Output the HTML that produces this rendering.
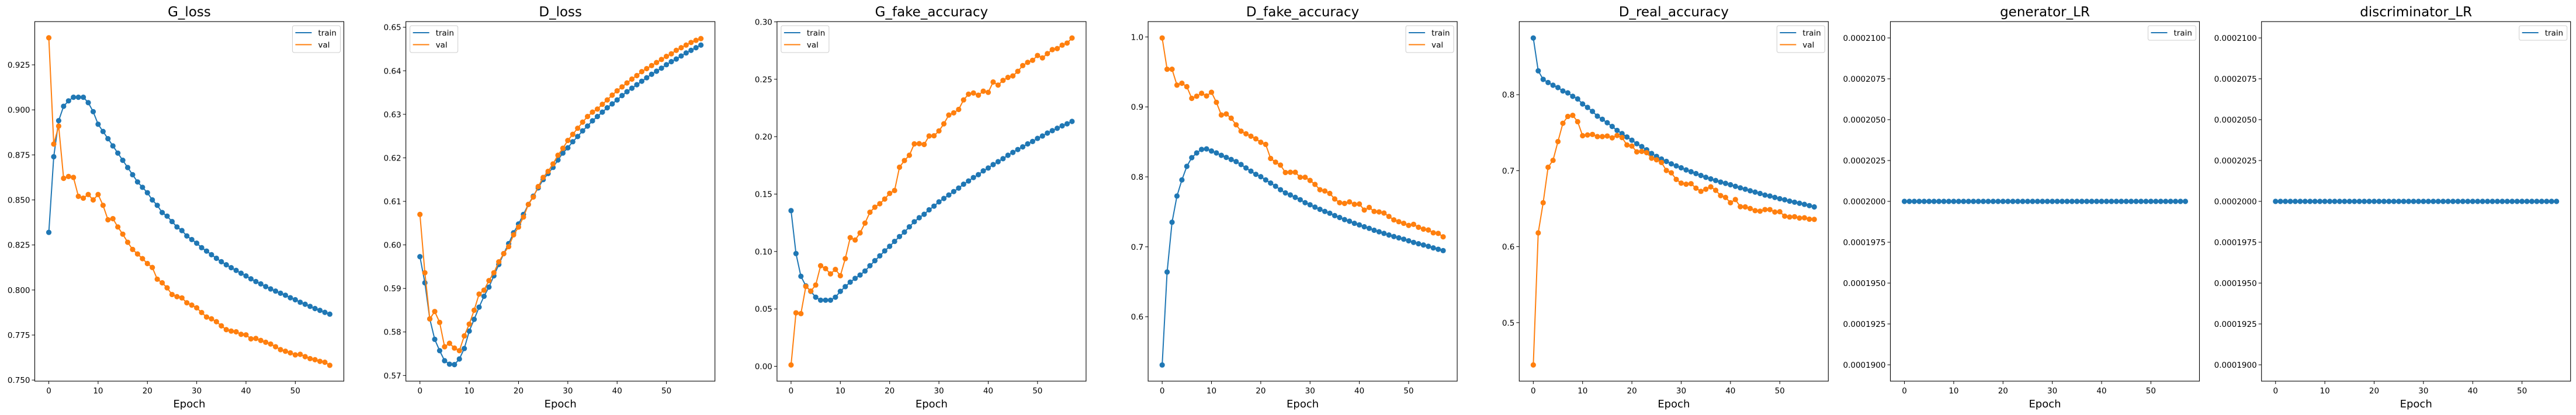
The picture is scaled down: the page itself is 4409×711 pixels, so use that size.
<!DOCTYPE html>
<html><head><meta charset="utf-8">
<style>
html,body{margin:0;padding:0;background:#fff;}
svg{display:block;font-family:"DejaVu Sans","Liberation Sans",sans-serif;}
</style></head>
<body>
<svg id="fig" width="4409" height="711" viewBox="0 0 4409 711" xmlns="http://www.w3.org/2000/svg"></svg>
<script>
const epochs = Array.from({length:58},(_,i)=>i);
const xTicks = [0,10,20,30,40,50];

const gLossTrain=[0.832,0.874,0.894,0.902,0.905,0.907,0.907,0.907,0.904,0.899,0.892,0.888,0.884,0.880,0.876,0.872,0.868,0.864,0.860,0.857,0.854,0.850,0.847,0.843,0.841,0.838,0.835,0.833,0.830,0.828,0.826,0.8235,0.8216,0.8196,0.8176,0.8157,0.814,0.8124,0.8109,0.8093,0.8078,0.8062,0.8047,0.8034,0.8019,0.8006,0.7994,0.7982,0.7971,0.7957,0.7946,0.7932,0.7921,0.7909,0.7897,0.7887,0.7876,0.7866];
const gLossVal=[0.940,0.881,0.891,0.862,0.863,0.8625,0.852,0.851,0.853,0.850,0.853,0.847,0.839,0.8396,0.835,0.831,0.8265,0.8225,0.820,0.8174,0.8147,0.8125,0.806,0.804,0.8012,0.7975,0.7963,0.7956,0.7929,0.7916,0.7901,0.7875,0.785,0.784,0.7824,0.7801,0.778,0.7772,0.7768,0.7754,0.7751,0.7729,0.7731,0.772,0.771,0.770,0.7685,0.7669,0.766,0.7651,0.764,0.7643,0.763,0.7619,0.7613,0.7604,0.7599,0.7582];
const gLossTicks=[0.750,0.775,0.800,0.825,0.850,0.875,0.900,0.925];
const gLossTickLabels=["0.750","0.775","0.800","0.825","0.850","0.875","0.900","0.925"];

const dLossTrain=[0.5973,0.5913,0.583,0.5783,0.5757,0.5734,0.5726,0.5725,0.5738,0.5762,0.5802,0.5829,0.5857,0.5882,0.5903,0.5929,0.5955,0.598,0.6003,0.6028,0.6048,0.607,0.6093,0.6112,0.6131,0.615,0.6164,0.6178,0.6195,0.6211,0.6223,0.6237,0.6249,0.6262,0.6273,0.6285,0.6295,0.6305,0.6315,0.6324,0.6333,0.6343,0.6352,0.636,0.6368,0.6376,0.6384,0.6392,0.6399,0.6406,0.6414,0.6421,0.6427,0.6434,0.6441,0.6447,0.6453,0.6459];
const dLossVal=[0.607,0.5936,0.583,0.5847,0.5822,0.5766,0.5774,0.5763,0.5757,0.5791,0.5818,0.585,0.5887,0.5896,0.5918,0.5936,0.5961,0.598,0.5996,0.6023,0.6041,0.6064,0.6093,0.611,0.6134,0.6155,0.6169,0.6186,0.6206,0.6222,0.624,0.6254,0.6268,0.6282,0.6295,0.6305,0.6312,0.6323,0.6333,0.6344,0.6354,0.6363,0.6372,0.6381,0.6389,0.6398,0.6405,0.6412,0.6419,0.6426,0.6433,0.6439,0.6447,0.6453,0.6459,0.6465,0.647,0.6474];
const dLossTicks=[0.57,0.58,0.59,0.60,0.61,0.62,0.63,0.64,0.65];
const dLossTickLabels=["0.57","0.58","0.59","0.60","0.61","0.62","0.63","0.64","0.65"];

const gFakeTrain=[0.1356,0.0982,0.0784,0.0701,0.0653,0.0602,0.0576,0.0576,0.0576,0.0602,0.0653,0.0694,0.0733,0.0766,0.0795,0.083,0.0876,0.092,0.0962,0.1005,0.1045,0.1088,0.113,0.1169,0.1215,0.1259,0.1294,0.1324,0.1363,0.1395,0.1432,0.1462,0.1492,0.1522,0.1552,0.1586,0.1614,0.1644,0.1669,0.1702,0.1727,0.1757,0.1782,0.1808,0.1838,0.1863,0.1888,0.1911,0.1937,0.1958,0.1985,0.2006,0.2031,0.2052,0.2073,0.2094,0.2112,0.2133];
const gFakeVal=[0.0012,0.0466,0.0459,0.0696,0.0655,0.0708,0.0876,0.0851,0.0805,0.0844,0.0789,0.0938,0.1121,0.11,0.1162,0.1247,0.1342,0.1386,0.1416,0.1457,0.1506,0.1531,0.1734,0.1792,0.1838,0.1937,0.1939,0.1932,0.2006,0.2008,0.205,0.2112,0.2188,0.2207,0.2237,0.232,0.237,0.238,0.2361,0.2396,0.2386,0.2476,0.2449,0.249,0.2516,0.2529,0.2569,0.2619,0.2647,0.2665,0.2707,0.2686,0.2723,0.2758,0.2767,0.2797,0.2815,0.2859];
const gFakeTicks=[0,0.05,0.10,0.15,0.20,0.25,0.30];
const gFakeTickLabels=["0.00","0.05","0.10","0.15","0.20","0.25","0.30"];

const dFakeTrain=[0.5311,0.664,0.7351,0.7726,0.7956,0.815,0.8274,0.8342,0.8392,0.8399,0.8369,0.8342,0.8308,0.8278,0.8248,0.8218,0.8176,0.8127,0.8081,0.8036,0.8002,0.7956,0.7911,0.7866,0.7816,0.7771,0.7741,0.7707,0.7673,0.7631,0.7601,0.7567,0.7536,0.7506,0.748,0.7446,0.7419,0.7389,0.7366,0.7336,0.7313,0.7287,0.7264,0.7237,0.7215,0.7192,0.7169,0.7147,0.7128,0.7109,0.7086,0.7063,0.7044,0.7026,0.7007,0.6984,0.6965,0.6946];
const dFakeVal=[0.9985,0.9538,0.9538,0.9311,0.9338,0.9289,0.9122,0.9152,0.9194,0.9156,0.9209,0.9065,0.8884,0.8899,0.8838,0.8744,0.8653,0.8615,0.8581,0.8543,0.8494,0.8464,0.8263,0.821,0.8168,0.8062,0.8066,0.8066,0.7994,0.7994,0.7949,0.7892,0.7816,0.7798,0.7763,0.7684,0.7631,0.762,0.7642,0.7608,0.7612,0.7525,0.7563,0.7506,0.7499,0.7483,0.7434,0.7385,0.7359,0.7336,0.7306,0.7321,0.7279,0.7253,0.7241,0.72,0.7192,0.7143];
const dFakeTicks=[0.6,0.7,0.8,0.9,1.0];
const dFakeTickLabels=["0.6","0.7","0.8","0.9","1.0"];

const dRealTrain=[0.8746,0.8314,0.8202,0.816,0.8125,0.8094,0.8049,0.8024,0.7979,0.7944,0.7878,0.7833,0.778,0.7718,0.7676,0.7631,0.7582,0.753,0.7488,0.7443,0.7401,0.7355,0.7317,0.7275,0.7226,0.7188,0.7153,0.7122,0.709,0.7063,0.7038,0.701,0.6986,0.6962,0.6937,0.6913,0.6892,0.6871,0.685,0.6833,0.6815,0.6794,0.6774,0.6756,0.6735,0.6718,0.67,0.6679,0.6666,0.6648,0.6631,0.6617,0.6599,0.6585,0.6571,0.6557,0.654,0.6523];
const dRealVal=[0.4443,0.6181,0.6578,0.7045,0.7136,0.7383,0.7624,0.7714,0.7728,0.7645,0.746,0.747,0.7477,0.7449,0.7449,0.7456,0.7432,0.7463,0.7436,0.7338,0.7324,0.7247,0.7254,0.7237,0.7164,0.7143,0.7108,0.7003,0.6972,0.6885,0.6836,0.6822,0.6829,0.677,0.6728,0.6756,0.6787,0.6742,0.6672,0.6648,0.6578,0.662,0.6526,0.6523,0.6502,0.6474,0.6467,0.6488,0.6488,0.6456,0.646,0.6401,0.639,0.6394,0.6376,0.638,0.6362,0.6359];
const dRealTicks=[0.5,0.6,0.7,0.8];
const dRealTickLabels=["0.5","0.6","0.7","0.8"];

const genLR=Array(58).fill(0.0002);
const discLR=Array(58).fill(0.0002);
const lrTicks=[0.00019,0.0001925,0.000195,0.0001975,0.0002,0.0002025,0.000205,0.0002075,0.00021];
const lrTickLabels=["0.0001900","0.0001925","0.0001950","0.0001975","0.0002000","0.0002025","0.0002050","0.0002075","0.0002100"];

const panels=[
 {title:"G_loss",name:"g-loss",ymin:0.7494,ymax:0.949,ticks:gLossTicks,labels:gLossTickLabels,series:[gLossTrain,gLossVal],legend:"right"},
 {title:"D_loss",name:"d-loss",ymin:0.5687,ymax:0.6513,ticks:dLossTicks,labels:dLossTickLabels,series:[dLossTrain,dLossVal],legend:"left"},
 {title:"G_fake_accuracy",name:"g-fake-accuracy",ymin:-0.0129,ymax:0.3002,ticks:gFakeTicks,labels:gFakeTickLabels,series:[gFakeTrain,gFakeVal],legend:"left"},
 {title:"D_fake_accuracy",name:"d-fake-accuracy",ymin:0.508,ymax:1.0219,ticks:dFakeTicks,labels:dFakeTickLabels,series:[dFakeTrain,dFakeVal],legend:"right"},
 {title:"D_real_accuracy",name:"d-real-accuracy",ymin:0.423,ymax:0.8962,ticks:dRealTicks,labels:dRealTickLabels,series:[dRealTrain,dRealVal],legend:"right"},
 {title:"generator_LR",name:"generator-lr",ymin:0.000189,ymax:0.000211,ticks:lrTicks,labels:lrTickLabels,series:[genLR],legend:"right"},
 {title:"discriminator_LR",name:"discriminator-lr",ymin:0.000189,ymax:0.000211,ticks:lrTicks,labels:lrTickLabels,series:[discLR],legend:"right"}
];
const colors=["#1f77b4","#ff7f0e"];
const seriesNames=["train","val"];
const NS="http://www.w3.org/2000/svg";
const svg=document.getElementById("fig");
function mk(tag,attrs,parent){const e=document.createElementNS(NS,tag);for(const k in attrs)e.setAttribute(k,attrs[k]);(parent||svg).appendChild(e);return e;}
const top_=37,bot=653,W=529,pitch=635.2,x0=59.5;
const xmin=-2.85,xmax=59.85;
panels.forEach((p,pi)=>{
  const L=x0+pi*pitch,R=L+W;
  const g=mk("g",{});
  
  
  const X=v=>L+(v-xmin)/(xmax-xmin)*W;
  const Y=v=>bot-(v-p.ymin)/(p.ymax-p.ymin)*(bot-top_);
  const t=mk("text",{x:(L+R)/2,y:28,"text-anchor":"middle","font-size":"23"},g);t.textContent=p.title;
  
  
  // series
  p.series.forEach((s,si)=>{
    const sg=mk("g",{},g);
    
    
    const d=s.map((v,i)=>(i?"L":"M")+X(epochs[i]).toFixed(2)+","+Y(v).toFixed(2)).join("");
    mk("path",{d:d,fill:"none",stroke:colors[si],"stroke-width":"2"},sg);
    s.forEach((v,i)=>{
      const c=mk("circle",{cx:X(epochs[i]),cy:Y(v),r:4.6,fill:colors[si]},sg);
      
      
    });
  });
  // frame
  const fr=mk("rect",{x:L,y:top_,width:W,height:bot-top_,fill:"none",stroke:"#000","stroke-width":"1.1"},g);
  
  
  // x ticks
  xTicks.forEach(v=>{
    const x=X(v);
    mk("line",{x1:x,x2:x,y1:bot,y2:bot+5,stroke:"#000","stroke-width":"1"},g);
    const tl=mk("text",{x:x,y:bot+21,"text-anchor":"middle","font-size":"13.5"},g);tl.textContent=v;
    
    
  });
  const xl=mk("text",{x:(L+R)/2,y:698,"text-anchor":"middle","font-size":"18"},g);xl.textContent="Epoch";
  
  
  // y ticks
  p.ticks.forEach((v,i)=>{
    const y=Y(v);
    mk("line",{x1:L-5,x2:L,y1:y,y2:y,stroke:"#000","stroke-width":"1"},g);
    const tl=mk("text",{x:L-8,y:y+5,"text-anchor":"end","font-size":"13.5"},g);tl.textContent=p.labels[i];
    
    
  });
  // legend
  const n=p.series.length;
  const lw=n===2?82:82, lh=n===2?46:25;
  const lx=p.legend==="right"?R-6-lw:L+7, ly=44;
  const lg=mk("g",{},g);
  
  
  mk("rect",{x:lx,y:ly,width:lw,height:lh,rx:3,fill:"#fff","fill-opacity":"0.8",stroke:"#ccc","stroke-width":"1"},lg);
  for(let si=0;si<n;si++){
    const yy=ly+12+si*20.5;
    mk("line",{x1:lx+5,x2:lx+33,y1:yy,y2:yy,stroke:colors[si],"stroke-width":"2"},lg);
    const lt=mk("text",{x:lx+44,y:yy+5,"font-size":"13.5"},lg);lt.textContent=seriesNames[si];
    
    
  }
});
</script>
</body></html>
